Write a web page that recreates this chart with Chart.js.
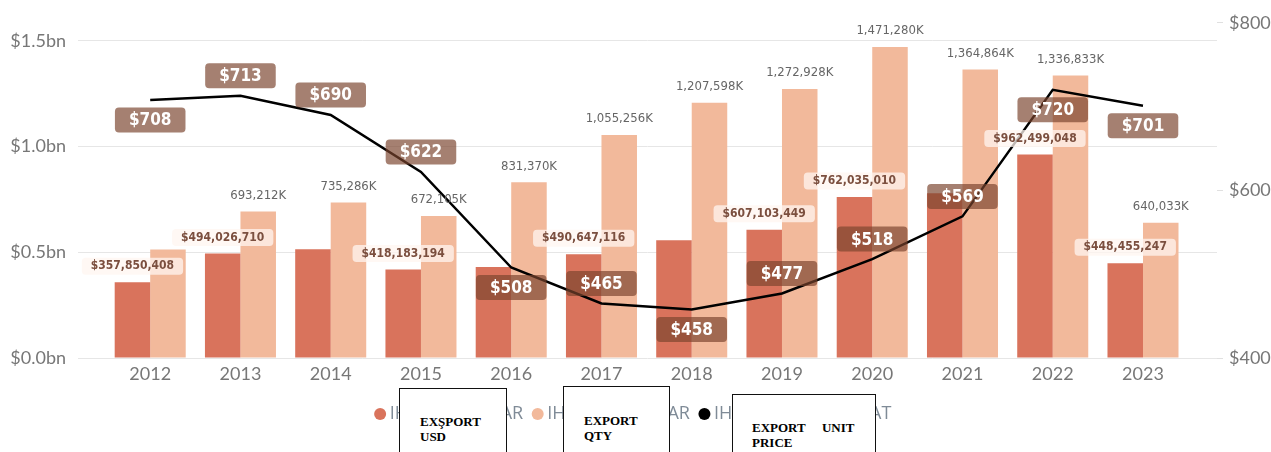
<!DOCTYPE html>
<html>
<head>
<meta charset="utf-8">
<script src="https://cdn.jsdelivr.net/npm/chart.js@4.4.1/dist/chart.umd.min.js"></script>
<style>
  html, body { margin: 0; padding: 0; background: #fff; }
  #wrap { position: relative; width: 1271px; height: 452px; overflow: hidden; }
  #chart { display: block; }
  .note {
    position: absolute;
    height: 90px;
    box-sizing: border-box;
    background: #fff;
    border: 1.5px solid #111;
    font-family: "Liberation Serif", "Times New Roman", serif;
    font-weight: bold;
    font-size: 13px;
    line-height: 15px;
    color: #000;
  }
</style>
</head>
<body>
<div id="wrap">
  <canvas id="chart" width="1271" height="452"></canvas>
  <div class="note" style="left:399px; top:388px; width:108px; padding:25px 0 0 20px;">EXŞPORT<br>USD</div>
  <div class="note" style="left:563px; top:386px; width:107px; padding:26px 0 0 20px;">EXPORT<br>QTY</div>
  <div class="note" style="left:732px; top:394px; width:144px; padding:25px 0 0 19px;">EXPORT<span style="margin-left:13px"></span> UNIT<br>PRICE</div>
</div>

<script>
const years = ['2012', '2013', '2014', '2015', '2016', '2017', '2018', '2019', '2020', '2021', '2022', '2023'];

// export value in USD (dark bars)
const exportUsd = [357850408, 494026710, 514000000, 418183194, 431000000, 490647116,
                   557000000, 607103449, 762035010, 780000000, 962499048, 448455247];
// export quantity (light bars, same left axis)
const exportQty = [513000000, 693212000, 735286000, 672105000, 831370000, 1055256000,
                   1207598000, 1272928000, 1471280000, 1364864000, 1336833000, 640033000];
// export unit price (line, right axis)
const unitPrice = [708, 713, 690, 622, 508, 465, 458, 477, 518, 569, 720, 701];

const usdTicks = [0, 0.5e9, 1.0e9, 1.5e9];
const priceTicks = [400, 600, 800];
const legendNames = ['IHRACAT TUTAR', 'IHRACAT MIKTAR', 'IHRACAT BIRIM FIYAT'];

// which data labels are visible in the original
const usdLabelShown = [true, true, false, true, false, true, false, true, true, false, true, true];
const qtyLabelShown = [false, true, true, true, true, true, true, true, true, true, true, true];
const priceLabelAbove = [false, true, true, true, false, true, false, true, true, true, false, false];

const AXIS_FONT = 'Lato, "Open Sans", sans-serif';
const LABEL_FONT = '"DejaVu Sans Condensed", "Liberation Sans Narrow", "DejaVu Sans", sans-serif';

const fmtUsd = v => '$' + v.toLocaleString('en-US');
const fmtQty = v => Math.round(v / 1000).toLocaleString('en-US') + 'K';

function fillBox(ctx, x, y, w, h, r) {
    ctx.beginPath();
    ctx.roundRect(x, y, w, h, r);
    ctx.fill();
}

const valueLabels = {
    id: 'valueLabels',
    afterDatasetsDraw(chart) {
        const ctx = chart.ctx;
        const usdBars = chart.getDatasetMeta(0).data;
        const qtyBars = chart.getDatasetMeta(1).data;
        const pricePts = chart.getDatasetMeta(2).data;

        ctx.save();
        ctx.textAlign = 'center';
        ctx.textBaseline = 'middle';

        // quantity: plain grey text above the bar
        ctx.font = '13px ' + LABEL_FONT;
        ctx.fillStyle = '#666666';
        qtyBars.forEach((bar, i) => {
            if (qtyLabelShown[i]) ctx.fillText(fmtQty(exportQty[i]), bar.x, bar.y - 16);
        });

        // usd: brown text on a pale box
        ctx.font = 'bold 12px ' + LABEL_FONT;
        usdBars.forEach((bar, i) => {
            if (!usdLabelShown[i]) return;
            const text = fmtUsd(exportUsd[i]);
            const w = ctx.measureText(text).width + 18;
            ctx.fillStyle = 'rgba(255, 246, 240, 0.75)';
            fillBox(ctx, bar.x - w / 2, bar.y - 24.5, w, 17, 4);
            ctx.fillStyle = '#7b4f3f';
            ctx.fillText(text, bar.x, bar.y - 16);
        });

        // unit price: white text on a brown box
        ctx.font = 'bold 17px ' + LABEL_FONT;
        pricePts.forEach((pt, i) => {
            const text = '$' + unitPrice[i];
            const w = ctx.measureText(text).width + 28;
            const cy = pt.y + (priceLabelAbove[i] ? -20 : 20);
            ctx.fillStyle = 'rgba(122, 68, 45, 0.68)';
            fillBox(ctx, pt.x - w / 2, cy - 12.5, w, 25, 4);
            ctx.fillStyle = '#ffffff';
            ctx.fillText(text, pt.x, cy + 1);
        });
        ctx.restore();
    }
};

new Chart(document.getElementById('chart'), {
    data: {
        datasets: [
            {
                type: 'bar',
                label: legendNames[0],
                data: exportUsd.map((v, i) => ({ x: i, y: v })),
                backgroundColor: '#D9735C',
                yAxisID: 'y',
                categoryPercentage: 0.787,
                barPercentage: 1.0,
                order: 2
            },
            {
                type: 'bar',
                label: legendNames[1],
                data: exportQty.map((v, i) => ({ x: i, y: v })),
                backgroundColor: '#F2B99B',
                yAxisID: 'y',
                categoryPercentage: 0.787,
                barPercentage: 1.0,
                order: 2
            },
            {
                type: 'line',
                label: legendNames[2],
                data: unitPrice.map((v, i) => ({ x: i, y: v })),
                borderColor: '#000000',
                backgroundColor: '#000000',
                borderWidth: 2.5,
                pointRadius: 0,
                tension: 0,
                yAxisID: 'y1',
                order: 1
            }
        ]
    },
    options: {
        responsive: false,
        animation: false,
        layout: {
            padding: { top: 22, bottom: 19 }
        },
        plugins: {
            tooltip: { enabled: false },
            legend: {
                position: 'bottom',
                labels: {
                    usePointStyle: true,
                    pointStyle: 'circle',
                    boxWidth: 1,
                    boxHeight: 8.5,
                    padding: 14,
                    color: '#7f8b97',
                    font: { family: '"Open Sans", sans-serif', size: 18 },
                    sort: (a, b) => a.datasetIndex - b.datasetIndex,
                    generateLabels: chart =>
                        Chart.defaults.plugins.legend.labels.generateLabels(chart)
                            .map(item => ({ ...item, lineWidth: 0 }))
                }
            }
        },
        scales: {
            x: {
                type: 'linear',
                offset: false,
                min: -0.8,
                max: 11.82,
                grid: { display: false, drawTicks: false },
                border: { display: false },
                afterBuildTicks: axis => {
                    axis.ticks = years.map((_, i) => ({ value: i }));
                },
                afterFit: axis => { axis.height = 33; },
                ticks: {
                    autoSkip: false,
                    maxRotation: 0,
                    padding: 5,
                    color: '#777777',
                    font: { family: AXIS_FONT, size: 18 },
                    callback: v => years[v]
                }
            },
            y: {
                position: 'left',
                min: 0,
                max: 1.586e9,
                grid: { color: '#e6e6e6', drawTicks: false },
                border: { display: false },
                afterBuildTicks: axis => {
                    axis.ticks = usdTicks.map(v => ({ value: v }));
                },
                afterFit: axis => { axis.width = 78; },
                ticks: {
                    padding: 12,
                    color: '#777777',
                    font: { family: AXIS_FONT, size: 18 },
                    callback: v => '$' + (v / 1e9).toFixed(1) + 'bn'
                }
            },
            y1: {
                position: 'right',
                min: 400,
                max: 800,
                grid: { drawOnChartArea: false, drawTicks: true, tickLength: 6, color: '#e0e0e0' },
                border: { display: false },
                afterBuildTicks: axis => {
                    axis.ticks = priceTicks.map(v => ({ value: v }));
                },
                afterFit: axis => { axis.width = 54; },
                ticks: {
                    padding: 6,
                    color: '#777777',
                    font: { family: AXIS_FONT, size: 18 },
                    callback: v => '$' + v
                }
            }
        }
    },
    plugins: [valueLabels]
});
</script>
</body>
</html>
